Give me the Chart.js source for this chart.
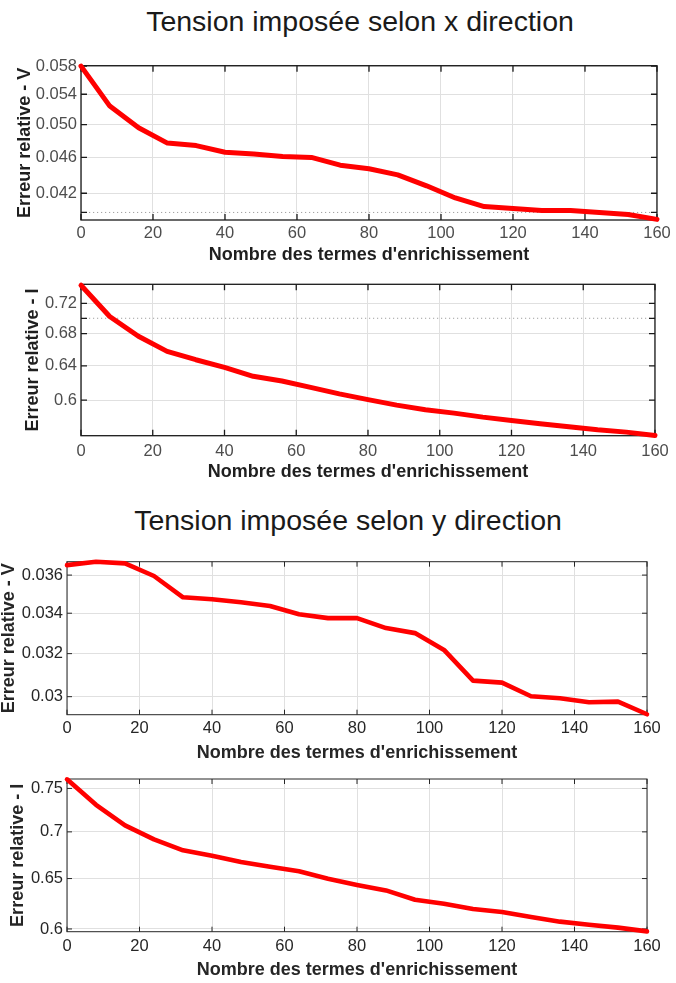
<!DOCTYPE html>
<html lang="fr">
<head>
<meta charset="utf-8">
<script src="https://cdn.jsdelivr.net/npm/chart.js@4.4.1/dist/chart.umd.min.js"></script>
<style>
  body { margin: 0; background: #fff; width: 676px; height: 983px; position: relative; overflow: hidden;
         font-family: "Liberation Sans", Arial, sans-serif; }
  .titre { position: absolute; font-size: 28.5px; color: #1a1a1a; white-space: nowrap; transform: translate(-50%, -50%); }
  canvas { position: absolute; left: 0; }
</style>
</head>
<body>
<div class="titre" style="left:360px; top:21px">Tension imposée selon x direction</div>
<div class="titre" style="left:348px; top:520px">Tension imposée selon y direction</div>
<canvas id="vx" width="676" height="220" style="top:50px"></canvas>
<canvas id="ix" width="676" height="215" style="top:270px"></canvas>
<canvas id="vy" width="676" height="225" style="top:540px"></canvas>
<canvas id="iy" width="676" height="218" style="top:765px"></canvas>
<script>
// nombre de termes d'enrichissement (axe x commun)
const termes = [0, 8, 16, 24, 32, 40, 48, 56, 64, 72, 80, 88, 96, 104, 112, 120, 128, 136, 144, 152, 160];
const xTicks = [0, 20, 40, 60, 80, 100, 120, 140, 160];

// erreurs relatives
const erreurVx = [0.0580, 0.0524, 0.0496, 0.0477, 0.0474, 0.0466, 0.0464, 0.0461, 0.0460, 0.0451, 0.0447,
                  0.0440, 0.0428, 0.0415, 0.0406, 0.0404, 0.0402, 0.0402, 0.0400, 0.0398, 0.0393];
const erreurIx = [0.745, 0.7024, 0.6766, 0.6577, 0.6474, 0.6382, 0.6275, 0.622, 0.6145, 0.607, 0.6005,
                  0.5943, 0.5891, 0.5854, 0.5810, 0.5774, 0.5737, 0.5705, 0.5673, 0.5648, 0.5613];
const erreurVy = [0.03654, 0.03673, 0.03664, 0.03595, 0.03482, 0.03472, 0.03456, 0.03437, 0.03395, 0.03375, 0.03375,
                  0.03325, 0.03300, 0.03218, 0.03073, 0.03064, 0.03002, 0.02993, 0.02975, 0.02978, 0.02922];
const erreurIy = [0.7609, 0.7308, 0.7072, 0.6917, 0.6798, 0.6740, 0.6673, 0.6623, 0.6575, 0.6498, 0.6435,
                  0.6379, 0.6285, 0.6245, 0.6193, 0.6164, 0.6115, 0.6070, 0.6041, 0.6013, 0.5977];

// graduations des axes y (échelle logarithmique)
const ticksVx = [0.042, 0.046, 0.050, 0.054, 0.058];
const labelsVx = ['0.042', '0.046', '0.050', '0.054', '0.058'];
const mineursVx = [0.04];
const ticksIx = [0.6, 0.64, 0.68, 0.72];
const labelsIx = ['0.6', '0.64', '0.68', '0.72'];
const mineursIx = [0.7];
const ticksVy = [0.03, 0.032, 0.034, 0.036];
const labelsVy = ['0.03', '0.032', '0.034', '0.036'];
const ticksIy = [0.6, 0.65, 0.7, 0.75];
const labelsIy = ['0.6', '0.65', '0.7', '0.75'];

const POLICE = '"Liberation Sans", Arial, sans-serif';

// cadre façon MATLAB : boîte, graduations intérieures, grille mineure pointillée
const cadre = {
  id: 'cadre',
  beforeDatasetsDraw(chart, args, o) {
    const { ctx, chartArea: a, scales: { x, y } } = chart;
    ctx.save();
    ctx.strokeStyle = '#a0a0a0';
    ctx.lineWidth = 1;
    ctx.setLineDash([1.2, 2.8]);
    o.mineurs.forEach(v => {
      const py = y.getPixelForValue(v);
      ctx.beginPath();
      ctx.moveTo(a.left, py);
      ctx.lineTo(a.right, py);
      ctx.stroke();
    });
    ctx.setLineDash([]);
    ctx.strokeStyle = o.couleur;
    ctx.lineWidth = o.epaisseur;
    ctx.beginPath();
    x.ticks.forEach(t => {
      const px = x.getPixelForValue(t.value);
      ctx.moveTo(px, a.bottom); ctx.lineTo(px, a.bottom - o.longueur);
      ctx.moveTo(px, a.top); ctx.lineTo(px, a.top + o.longueur);
    });
    y.ticks.map(t => t.value).concat(o.mineurs).forEach(v => {
      const py = y.getPixelForValue(v);
      ctx.moveTo(a.left, py); ctx.lineTo(a.left + o.longueur, py);
      ctx.moveTo(a.right, py); ctx.lineTo(a.right - o.longueur, py);
    });
    ctx.stroke();
    ctx.strokeRect(a.left, a.top, a.right - a.left, a.bottom - a.top);
    ctx.restore();
  }
};

function tracer(id, serie, yTicks, yLabels, cfg) {
  new Chart(document.getElementById(id), {
    type: 'line',
    data: {
      datasets: [{
        data: termes.map((t, i) => ({ x: t, y: serie[i] })),
        borderColor: '#ff0000',
        borderWidth: cfg.trait,
        pointRadius: 0,
        tension: 0,
        clip: false,
        borderJoinStyle: 'round',
        borderCapStyle: 'round'
      }]
    },
    options: {
      responsive: false,
      animation: false,
      devicePixelRatio: 1,
      layout: { padding: { top: cfg.haut, right: cfg.droite, left: 0, bottom: 0 } },
      plugins: {
        legend: { display: false },
        tooltip: { enabled: false },
        cadre: { mineurs: cfg.mineurs || [], couleur: cfg.cadre, epaisseur: cfg.epaisseur, longueur: cfg.longueur }
      },
      scales: {
        x: {
          type: 'linear', min: 0, max: 160,
          afterFit: s => { s.height = cfg.hx; },
          afterBuildTicks: s => { s.ticks = xTicks.map(v => ({ value: v })); },
          ticks: { padding: cfg.padX, color: cfg.texte, maxRotation: 0, autoSkip: false,
                   font: { family: POLICE, size: 16.5, lineHeight: 1 } },
          grid: { color: '#e0e0e0', lineWidth: 1, drawTicks: false },
          border: { display: false },
          title: { display: true, text: "Nombre des termes d'enrichissement", color: cfg.titre,
                   font: { family: POLICE, size: cfg.taille, weight: 'bold', lineHeight: 1 },
                   padding: { top: 0, bottom: cfg.padTitreX } }
        },
        y: {
          type: 'logarithmic', min: cfg.min, max: cfg.max,
          afterFit: s => { s.width = cfg.ly; },
          afterBuildTicks: s => { s.ticks = yTicks.map(v => ({ value: v })); },
          ticks: { padding: 4, color: cfg.texte, autoSkip: false,
                   callback: (v, i) => yLabels[i],
                   font: { family: POLICE, size: 16.5, lineHeight: 1 } },
          grid: { color: '#e0e0e0', lineWidth: 1, drawTicks: false },
          border: { display: false },
          title: { display: true, text: cfg.nomY, color: cfg.titre,
                   font: { family: POLICE, size: cfg.taille, weight: 'bold', lineHeight: 1 },
                   padding: { top: cfg.padTitreY, bottom: 0 } }
        }
      }
    },
    plugins: [cadre]
  });
}

tracer('vx', erreurVx, ticksVx, labelsVx, {
  haut: 15.7, droite: 15, ly: 81, hx: 50, padX: 5.25, padTitreX: 6, padTitreY: 16,
  min: 0.03924, max: 0.05806, mineurs: mineursVx, nomY: 'Erreur relative - V', trait: 5,
  texte: '#4d4d4d', titre: '#1f1f1f', taille: 18, cadre: '#1a1a1a', epaisseur: 1.3, longueur: 6
});
tracer('ix', erreurIx, ticksIx, labelsIx, {
  haut: 14.3, droite: 15, ly: 81, hx: 49.3, padX: 7.25, padTitreX: 3.5, padTitreY: 24.3,
  min: 0.561, max: 0.7463, mineurs: mineursIx, nomY: 'Erreur relative - I', trait: 5,
  texte: '#4d4d4d', titre: '#1f1f1f', taille: 18, cadre: '#1a1a1a', epaisseur: 1.3, longueur: 6
});
tracer('vy', erreurVy, ticksVy, labelsVy, {
  haut: 21.7, droite: 29, ly: 67, hx: 50.3, padX: 5.35, padTitreX: 3, padTitreY: 0,
  min: 0.0292, max: 0.03673, nomY: 'Erreur relative - V', trait: 4.6,
  texte: '#262626', titre: '#262626', taille: 18, cadre: '#262626', epaisseur: 1, longueur: 5
});
tracer('iy', erreurIy, ticksIy, labelsIy, {
  haut: 14, droite: 29, ly: 67, hx: 51.3, padX: 6.75, padTitreX: 4.3, padTitreY: 9.3,
  min: 0.5974, max: 0.7613, nomY: 'Erreur relative - I', trait: 4.6,
  texte: '#262626', titre: '#262626', taille: 18, cadre: '#262626', epaisseur: 1, longueur: 5
});
</script>
</body>
</html>
